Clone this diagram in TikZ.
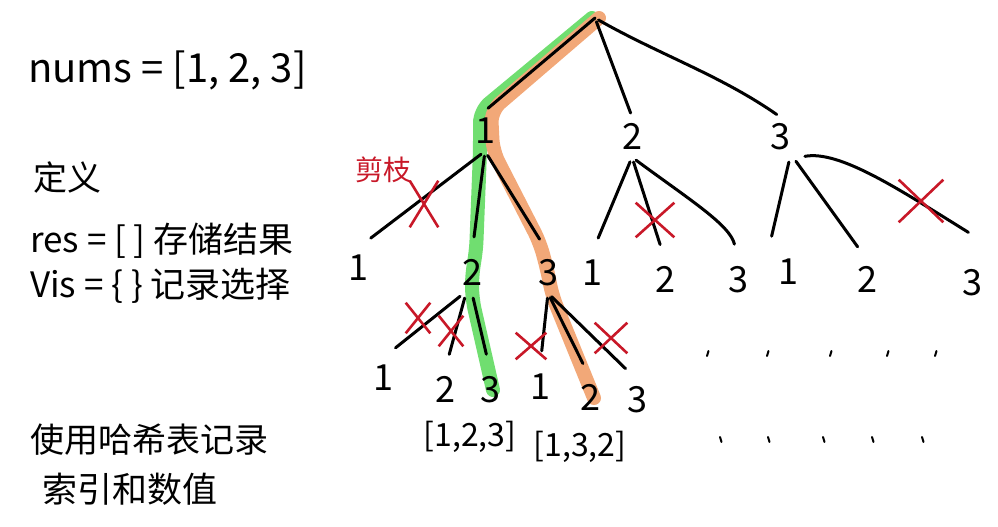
\documentclass[tikz,border=0pt]{standalone}
\usepackage{fontspec}
\usepackage{tikz}
\usetikzlibrary{shapes.misc, backgrounds}

\newfontfamily\cjk{Noto Sans CJK SC}

\definecolor{cutred}{RGB}{200,24,40}
\definecolor{pathgreen}{RGB}{112,222,112}
\definecolor{pathorange}{RGB}{242,168,120}

\begin{document}
\begin{tikzpicture}[x=1pt, y=-1pt,
	digit/.style={font=\cjk\fontsize{36}{36}\selectfont, text height=24pt, text depth=0pt, inner xsep=2pt, inner ysep=8pt},
	note/.style={font=\cjk\fontsize{#1}{#1}\selectfont, anchor=base west, inner sep=0pt},
	branch/.style={draw=black, line width=3pt, line cap=round, shorten <=5pt, shorten >=16pt},
	prune/.style={cross out, draw=cutred, line width=2.6pt, inner sep=0pt, minimum width=30pt, minimum height=30pt},
	trail/.style={line width=14pt, line cap=round, line join=round, rounded corners=12pt},
	tick/.style={draw=black, line width=2pt, line cap=round}]

	\useasboundingbox (0,0) rectangle (998,527);

	\coordinate (root) at (595,18);

	% Notes on the left
	\node[note=40] (nums) at (28,82) {nums = [1, 2, 3]};
	\node[note=34] (define) at (33,190) {定义};
	\node[note=35] (resline) at (30,252) {res = [ ] 存储结果};
	\node[note=35] (visline) at (30,297) {Vis = \{ \} 记录选择};
	\node[note=34] (hashA) at (30,452) {使用哈希表记录};
	\node[note=35] (hashB) at (42,502) {索引和数值};

	% First choice
	\node[digit] (a1) at (485,131) {1};
	\node[digit] (a2) at (632,137) {2};
	\node[digit] (a3) at (780,137) {3};

	% Second choice
	\node[digit] (b11) at (358,268) {1};
	\node[digit] (b12) at (472,273) {2};
	\node[digit] (b13) at (548,273) {3};
	\node[digit] (b21) at (592,273) {1};
	\node[digit] (b22) at (665,280) {2};
	\node[digit] (b23) at (738,280) {3};
	\node[digit] (b31) at (788,272) {1};
	\node[digit] (b32) at (867,280) {2};
	\node[digit] (b33) at (972,283) {3};

	% Third choice
	\node[digit] (c121) at (383,378) {1};
	\node[digit] (c122) at (445,390) {2};
	\node[digit] (c123) at (490,390) {3};
	\node[digit] (c131) at (540,387) {1};
	\node[digit] (c132) at (590,398) {2};
	\node[digit] (c133) at (637,400) {3};

	% Results
	\node[font=\cjk\fontsize{32}{32}\selectfont] (res1) at (470,437) {[1,2,3]};
	\node[font=\cjk\fontsize{32}{32}\selectfont] (res2) at (580,447) {[1,3,2]};

	% Highlighted paths
	\begin{pgfonlayer}{background}
		\draw[trail, draw=pathgreen]	([xshift=-3pt]root) --
										([xshift=-5pt]a1.north) --
										([xshift=-5pt]a1.south) --
										([xshift=4pt]b12.north) --
										(b12.center) --
										([yshift=-25pt]b12.center) --
										([xshift=3pt]c123.center);
		\draw[trail, draw=pathorange]	([xshift=4pt]root) --
										([xshift=6pt]a1.north) --
										([xshift=8pt]a1.south) --
										([xshift=-8pt,yshift=10pt]b13.north) --
										(b13.center) --
										([xshift=4pt,yshift=-22pt]b13.center) --
										([xshift=4pt]c132.center);
	\end{pgfonlayer}

	% Branches from the root
	\draw[branch, shorten <=0pt, shorten >=4pt] (root) -- (a1.north);
	\draw[branch, shorten <=4pt, shorten >=4pt] (root) -- (a2.north);
	\draw[branch, shorten <=4pt, shorten >=4pt] (root) .. controls (660,55) and (720,75) .. (a3.north);

	% Branches of the second level
	\draw[branch] (a1.south) -- (b11.north);
	\draw[branch] (a1.south) -- (b12.north);
	\draw[branch] (a1.south) -- (b13.north);
	\draw[branch] (a2.south) -- (b21.north);
	\draw[branch] (a2.south) -- (b22.north);
	\draw[branch] (a2.south) .. controls (690,200) and (730,225) .. (b23.north);
	\draw[branch] ([xshift=10pt]a3.south) -- ([xshift=-20pt]b31.north);
	\draw[branch] ([xshift=13pt]a3.south) -- (b32.north);
	\draw[branch] ([xshift=20pt]a3.south) .. controls (840,150) and (900,190) .. ([xshift=10pt,yshift=22pt]b33.north);

	% Branches of the third level
	\draw[branch] ([xshift=-8pt]b12.south) -- (c121.north);
	\draw[branch] ([xshift=-6pt]b12.south) -- (c122.north);
	\draw[branch] (b12.south) -- (c123.north);
	\draw[branch] (b13.south) -- (c131.north);
	\draw[branch] (b13.south) -- (c132.north);
	\draw[branch] (b13.south) -- (c133.north);

	% Pruned branches
	\node[prune, minimum width=26pt, minimum height=44pt] (cut1) at (424,204) {};
	\node[prune, minimum width=36pt, minimum height=32pt] (cut2) at (655,220) {};
	\node[prune, minimum width=42pt, minimum height=40pt] (cut3) at (921,201) {};
	\node[prune, minimum width=22pt, minimum height=28pt] (cut4) at (418,318) {};
	\node[prune, minimum width=22pt, minimum height=28pt] (cut5) at (451,331) {};
	\node[prune, minimum width=28pt, minimum height=24pt] (cut6) at (531,346) {};
	\node[prune, minimum width=30pt, minimum height=28pt] (cut7) at (611,338) {};
	\node[font=\cjk\fontsize{28}{28}\selectfont, text=cutred] (cutnote) at (383,170) {剪枝};

	% Remaining branches left out
	\foreach \x in {707,767,830,887,935}
		\draw[tick] (\x,356) -- ++(1.5,-5);
	\foreach \x in {720,768,823,872,922}
		\draw[tick] (\x,437) -- ++(1.5,5);

\end{tikzpicture}
\end{document}
